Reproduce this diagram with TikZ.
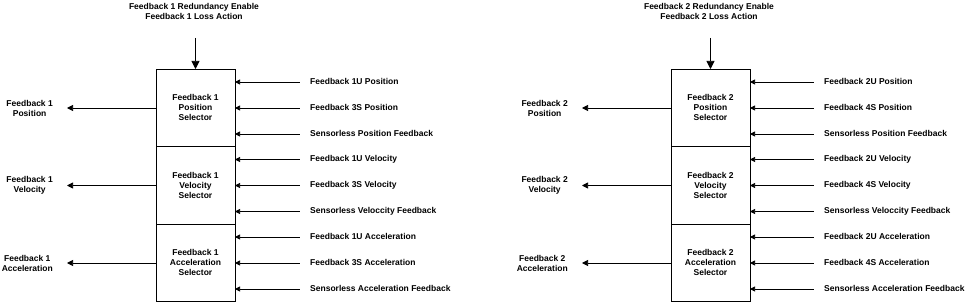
\documentclass[tikz,border=0pt]{standalone}
\usepackage{fontspec}
\setmainfont{Liberation Sans}
\usetikzlibrary{arrows.meta, positioning}

\begin{document}
\begin{tikzpicture}[x=1pt, y=-1pt,
  selbox/.style={draw, line width=0.7pt, minimum width=79pt, minimum height=77.5pt, outer sep=0pt, inner sep=0pt, align=center, font=\fontsize{8.5}{10}\selectfont\bfseries},
  sigtext/.style={inner sep=2pt, align=center, font=\fontsize{8.5}{10}\selectfont\bfseries},
  inlabel/.style={sigtext, anchor=west, text height=6.2pt, text depth=1.8pt},
  outlabel/.style={sigtext, anchor=east},
  inarr/.style={-{Triangle[length=5pt,width=5pt]}, line width=0.7pt, shorten <=8.5pt},
  outarr/.style={-{Triangle[length=6pt,width=6pt]}, line width=0.7pt, shorten >=12pt},
  toparr/.style={-{Triangle[length=8pt,width=8pt]}, line width=0.7pt}
]
  \useasboundingbox (0,0) rectangle (969,305);

  % Feedback 1 selectors
  \node[selbox] (possel1) at (195.5,107.75) {Feedback 1\\Position\\Selector};
  \node[selbox, below=0pt of possel1] (velsel1) {Feedback 1\\Velocity\\Selector};
  \node[selbox, below=0pt of velsel1] (accsel1) {Feedback 1\\Acceleration\\Selector};

  \node[sigtext] (ctrl1) at (194,11) {Feedback 1 Redundancy Enable\\Feedback 1 Loss Action};
  \coordinate (ctrltop1) at (195.5,38);
  \draw[toparr] (ctrltop1) -- (possel1.north);

  \node[outlabel] (posout1) at (55,108) {Feedback 1\\Position};
  \node[outlabel] (velout1) at (55,185.5) {Feedback 1\\Velocity};
  \node[outlabel] (accout1) at (55,263) {Feedback 1\\Acceleration};
  \draw[outarr] (possel1.west |- posout1.east) -- (posout1.east);
  \draw[outarr] (velsel1.west |- velout1.east) -- (velout1.east);
  \draw[outarr] (accsel1.west |- accout1.east) -- (accout1.east);

  \node[inlabel] (posa1) at (308,82) {Feedback 1U Position};
  \node[inlabel] (posb1) at (308,108) {Feedback 3S Position};
  \node[inlabel] (posc1) at (308,134) {Sensorless Position Feedback};
  \node[inlabel] (vela1) at (308,159.5) {Feedback 1U Velocity};
  \node[inlabel] (velb1) at (308,185.5) {Feedback 3S Velocity};
  \node[inlabel] (velc1) at (308,211.5) {Sensorless Veloccity Feedback};
  \node[inlabel] (acca1) at (308,237) {Feedback 1U Acceleration};
  \node[inlabel] (accb1) at (308,263) {Feedback 3S Acceleration};
  \node[inlabel] (accc1) at (308,289) {Sensorless Acceleration Feedback};
  \draw[inarr] (posa1.west) -- (possel1.east |- posa1.west);
  \draw[inarr] (posb1.west) -- (possel1.east |- posb1.west);
  \draw[inarr] (posc1.west) -- (possel1.east |- posc1.west);
  \draw[inarr] (vela1.west) -- (velsel1.east |- vela1.west);
  \draw[inarr] (velb1.west) -- (velsel1.east |- velb1.west);
  \draw[inarr] (velc1.west) -- (velsel1.east |- velc1.west);
  \draw[inarr] (acca1.west) -- (accsel1.east |- acca1.west);
  \draw[inarr] (accb1.west) -- (accsel1.east |- accb1.west);
  \draw[inarr] (accc1.west) -- (accsel1.east |- accc1.west);

  % Feedback 2 selectors
  \node[selbox] (possel2) at (710.5,107.75) {Feedback 2\\Position\\Selector};
  \node[selbox, below=0pt of possel2] (velsel2) {Feedback 2\\Velocity\\Selector};
  \node[selbox, below=0pt of velsel2] (accsel2) {Feedback 2\\Acceleration\\Selector};

  \node[sigtext] (ctrl2) at (709,11) {Feedback 2 Redundancy Enable\\Feedback 2 Loss Action};
  \coordinate (ctrltop2) at (710.5,38);
  \draw[toparr] (ctrltop2) -- (possel2.north);

  \node[outlabel] (posout2) at (570,108) {Feedback 2\\Position};
  \node[outlabel] (velout2) at (570,185.5) {Feedback 2\\Velocity};
  \node[outlabel] (accout2) at (570,263) {Feedback 2\\Acceleration};
  \draw[outarr] (possel2.west |- posout2.east) -- (posout2.east);
  \draw[outarr] (velsel2.west |- velout2.east) -- (velout2.east);
  \draw[outarr] (accsel2.west |- accout2.east) -- (accout2.east);

  \node[inlabel] (posa2) at (822,82) {Feedback 2U Position};
  \node[inlabel] (posb2) at (822,108) {Feedback 4S Position};
  \node[inlabel] (posc2) at (822,134) {Sensorless Position Feedback};
  \node[inlabel] (vela2) at (822,159.5) {Feedback 2U Velocity};
  \node[inlabel] (velb2) at (822,185.5) {Feedback 4S Velocity};
  \node[inlabel] (velc2) at (822,211.5) {Sensorless Veloccity Feedback};
  \node[inlabel] (acca2) at (822,237) {Feedback 2U Acceleration};
  \node[inlabel] (accb2) at (822,263) {Feedback 4S Acceleration};
  \node[inlabel] (accc2) at (822,289) {Sensorless Acceleration Feedback};
  \draw[inarr] (posa2.west) -- (possel2.east |- posa2.west);
  \draw[inarr] (posb2.west) -- (possel2.east |- posb2.west);
  \draw[inarr] (posc2.west) -- (possel2.east |- posc2.west);
  \draw[inarr] (vela2.west) -- (velsel2.east |- vela2.west);
  \draw[inarr] (velb2.west) -- (velsel2.east |- velb2.west);
  \draw[inarr] (velc2.west) -- (velsel2.east |- velc2.west);
  \draw[inarr] (acca2.west) -- (accsel2.east |- acca2.west);
  \draw[inarr] (accb2.west) -- (accsel2.east |- accb2.west);
  \draw[inarr] (accc2.west) -- (accsel2.east |- accc2.west);
\end{tikzpicture}
\end{document}
